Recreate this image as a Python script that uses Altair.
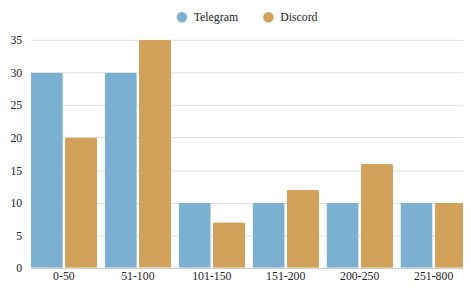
import altair as alt
import pandas as pd

categories = ["0-50", "51-100", "101-150", "151-200", "200-250", "251-800"]
series = ["Telegram", "Discord"]
telegram = [30, 30, 10, 10, 10, 10]
discord = [20, 35, 7, 12, 16, 10]
colors = ["#7BB0D1", "#D2A15A"]

rows = []
for c, t, d in zip(categories, telegram, discord):
    rows.append({"range": c, "app": "Telegram", "value": t})
    rows.append({"range": c, "app": "Discord", "value": d})
df = pd.DataFrame(rows)

FONT = "Liberation Serif"

chart = alt.Chart(df).mark_bar(cornerRadiusTopLeft=2, cornerRadiusTopRight=2).encode(
    x=alt.X("range:N", sort=categories, title=None,
            scale=alt.Scale(paddingInner=0.1, paddingOuter=0),
            axis=alt.Axis(labelAngle=0, ticks=False, domain=True, domainColor="#cccccc",
                          labelPadding=3, labelFontSize=12, labelColor="#222")),
    xOffset=alt.XOffset("app:N", sort=series,
                        scale=alt.Scale(paddingInner=0.06, paddingOuter=0)),
    y=alt.Y("value:Q", title=None,
            scale=alt.Scale(domain=[0, 35]),
            axis=alt.Axis(values=[0, 5, 10, 15, 20, 25, 30, 35], ticks=False, domain=False,
                          gridColor="#dddddd", labelPadding=9, labelFontSize=12,
                          labelColor="#222")),
    color=alt.Color("app:N", sort=series,
                    scale=alt.Scale(domain=series, range=colors),
                    legend=alt.Legend(orient="none", legendX=148, legendY=-29,
                                      direction="horizontal", title=None, symbolType="circle",
                                      symbolSize=115, symbolStrokeWidth=0, labelOffset=6,
                                      labelFontSize=12, labelColor="#222",
                                      columnPadding=24)),
).properties(
    width=444, height=232,
    autosize=alt.AutoSizeParams(type="none"),
    padding={"left": 23, "top": 30, "right": -4, "bottom": 15},
).configure(font=FONT).configure_view(stroke=None).configure_axis(
    labelFont=FONT).configure_legend(labelFont=FONT)

chart.save("out.html", embed_options={"renderer": "svg", "actions": False})
